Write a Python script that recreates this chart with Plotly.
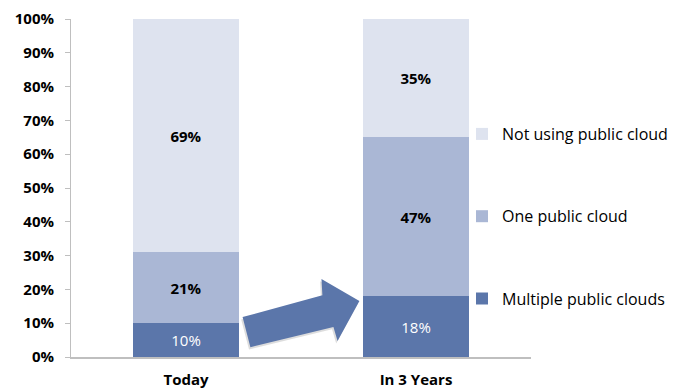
import plotly.graph_objects as go

# Share of organisations by public cloud usage
periods = ["Today", "In 3 Years"]
multiple_clouds = [10, 18]
one_cloud = [21, 47]
not_using = [69, 35]

series_names = ["Multiple public clouds", "One public cloud", "Not using public cloud"]
series_values = [multiple_clouds, one_cloud, not_using]
series_colors = ["#5B76AA", "#AAB7D5", "#DEE3EF"]
label_colors = ["white", "black", "black"]
label_weights = ["normal", "bold", "bold"]
legend_ranks = [3, 2, 1]

# Arrow outline in (category index, percent) units
arrow_x = [0.280, 0.246, 0.593, 0.589, 0.754, 0.659, 0.641]
arrow_y = [2.9, 11.8, 18.3, 23.1, 16.6, 4.7, 8.9]

FONT = "Open Sans"

fig = go.Figure()
for name, vals, color, lc, lw, rank in zip(series_names, series_values, series_colors,
                                            label_colors, label_weights, legend_ranks):
    fig.add_trace(go.Bar(
        x=periods, y=vals, name=name, legendgroup=name, legendrank=rank,
        marker=dict(color=color, line=dict(width=0)),
        width=0.457,
        text=[f"{v}%" for v in vals],
        textposition="inside", insidetextanchor="middle",
        textfont=dict(family=FONT, size=15, color=lc, weight=lw),
        hoverinfo="skip",
    ))


def path_from(xs, ys, dx=0.0, dy=0.0):
    pts = [f"{x + dx},{y + dy}" for x, y in zip(xs, ys)]
    return "M" + " L".join(pts) + " Z"


shapes = [
    # soft drop shadow beneath the arrow
    dict(type="path", xref="x", yref="y", layer="above",
         path=path_from(arrow_x, arrow_y, dx=-0.006, dy=-0.7),
         fillcolor="rgba(120,120,120,0.25)", line=dict(width=0)),
    dict(type="path", xref="x", yref="y", layer="above",
         path=path_from(arrow_x, arrow_y),
         fillcolor="#5B76AA", line=dict(width=0)),
]

fig.update_layout(
    width=673, height=391,
    margin=dict(l=71, r=142, t=19, b=34, autoexpand=False),
    paper_bgcolor="white", plot_bgcolor="white",
    barmode="stack",
    font=dict(family=FONT, size=15, color="black"),
    shapes=shapes,
    showlegend=True,
    legend=dict(
        xref="container", yref="container",
        x=462 / 673, xanchor="left",
        y=1 - 117 / 391, yanchor="top",
        traceorder="grouped",
        tracegroupgap=58.5,
        maxheight=320,
        font=dict(family=FONT, size=16, color="black"),
        bgcolor="rgba(0,0,0,0)",
        itemclick=False, itemdoubleclick=False,
    ),
    xaxis=dict(
        type="category",
        showline=True, linecolor="#BFBFBF", linewidth=1.5,
        ticks="", showgrid=False,
        tickfont=dict(family=FONT, size=15, color="black", weight="bold"),
        ticklabelstandoff=8,
        fixedrange=True,
    ),
    yaxis=dict(
        range=[0, 100], dtick=10,
        ticksuffix="%",
        showline=True, linecolor="#BFBFBF", linewidth=1,
        ticks="outside", ticklen=5, tickcolor="#BFBFBF",
        showgrid=False, zeroline=False,
        tickfont=dict(family=FONT, size=15, color="black", weight="bold"),
        ticklabelstandoff=8,
        fixedrange=True,
    ),
)

fig.write_html("out.html", config={"displayModeBar": False})
